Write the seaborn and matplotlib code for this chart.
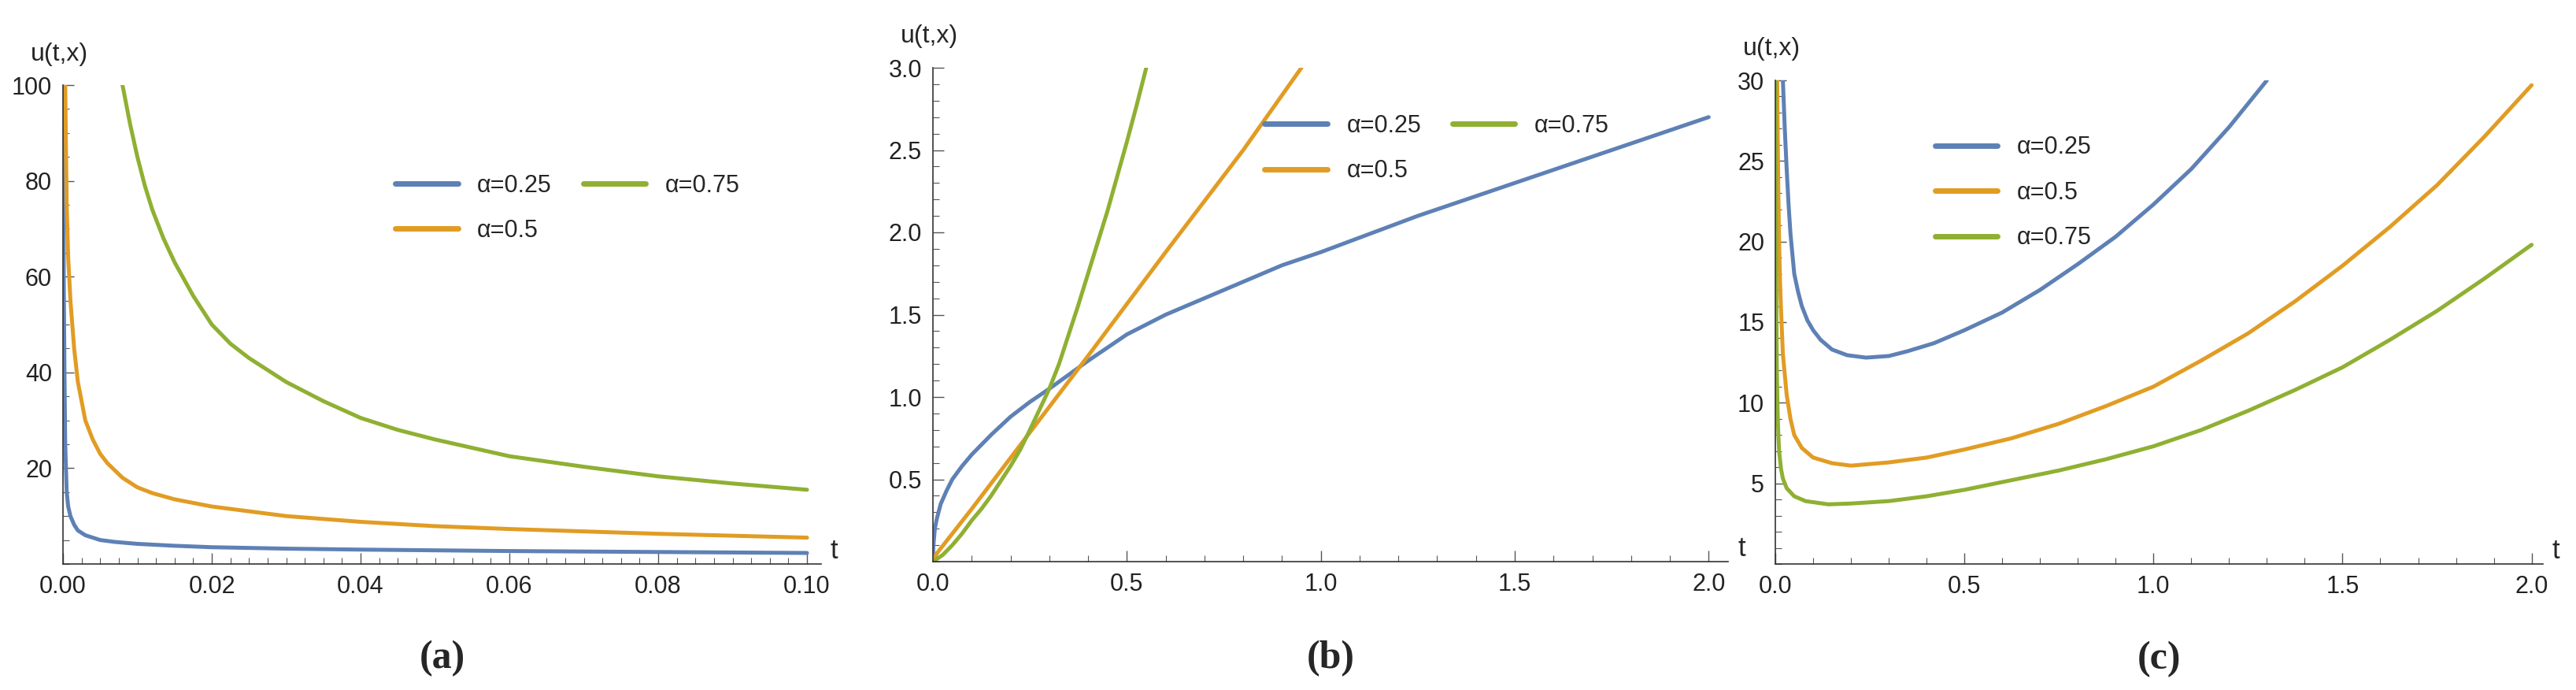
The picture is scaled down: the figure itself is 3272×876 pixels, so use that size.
import numpy as np
import pandas as pd
import seaborn as sns
import matplotlib
matplotlib.use("Agg")
import matplotlib.pyplot as plt
from matplotlib.ticker import MultipleLocator
from matplotlib.lines import Line2D

sns.set_theme(style="ticks")
plt.rcParams['font.family'] = ['Liberation Sans Narrow', 'Liberation Sans', 'DejaVu Sans']

labels = ["α=0.25", "α=0.5", "α=0.75"]
colors = ["#5E81B5", "#E19C24", "#8FB032"]

# Panel (a)
a_t025 = [0.00005, 0.0001, 0.0002, 0.0003, 0.0005, 0.0007, 0.001, 0.0015, 0.002, 0.003, 0.005, 0.007, 0.01, 0.015, 0.02, 0.03, 0.04, 0.06, 0.08, 0.1]
a_u025 = [100, 60, 40, 25, 15, 12, 10, 8.2, 7, 6, 5, 4.6, 4.2, 3.8, 3.5, 3.2, 3.0, 2.7, 2.5, 2.3]
a_t05 = [0.0003, 0.0004, 0.0005, 0.0007, 0.001, 0.0015, 0.002, 0.003, 0.004, 0.005, 0.006, 0.008, 0.01, 0.012, 0.015, 0.02, 0.025, 0.03, 0.04, 0.05, 0.06, 0.08, 0.1]
a_u05 = [100, 87, 75, 64, 55, 45, 38, 30, 26, 23, 21, 18, 16, 14.8, 13.5, 12, 11, 10, 8.8, 7.9, 7.3, 6.3, 5.5]
a_t075 = [0.008, 0.009, 0.01, 0.011, 0.012, 0.0135, 0.015, 0.0175, 0.02, 0.0225, 0.025, 0.0275, 0.03, 0.035, 0.04, 0.045, 0.05, 0.06, 0.07, 0.08, 0.09, 0.1]
a_u075 = [100, 92, 85, 79, 74, 68, 63, 56, 50, 46, 43, 40.5, 38, 34, 30.5, 28, 26, 22.5, 20.3, 18.3, 16.8, 15.5]

# Panel (b)
b_t025 = [0, 0.001, 0.002, 0.005, 0.01, 0.02, 0.035, 0.05, 0.075, 0.1, 0.15, 0.2, 0.25, 0.3, 0.4, 0.5, 0.6, 0.75, 0.9, 1.0, 1.25, 1.5, 1.75, 2.0]
b_u025 = [0, 0.09, 0.12, 0.2, 0.26, 0.35, 0.43, 0.5, 0.58, 0.65, 0.77, 0.88, 0.97, 1.05, 1.22, 1.38, 1.5, 1.65, 1.8, 1.88, 2.1, 2.3, 2.5, 2.7]
b_t05 = [0, 0.01, 0.02, 0.05, 0.1, 0.2, 0.3, 0.4, 0.6, 0.8, 0.95]
b_u05 = [0, 0.05, 0.08, 0.17, 0.32, 0.63, 0.94, 1.25, 1.88, 2.5, 3.0]
b_t075 = [0, 0.025, 0.05, 0.075, 0.1, 0.125, 0.15, 0.175, 0.2, 0.225, 0.25, 0.27, 0.3, 0.325, 0.35, 0.375, 0.4, 0.425, 0.45, 0.475, 0.5, 0.525, 0.55]
b_u075 = [0, 0.04, 0.1, 0.17, 0.25, 0.32, 0.4, 0.49, 0.58, 0.68, 0.8, 0.9, 1.05, 1.2, 1.38, 1.56, 1.75, 1.94, 2.13, 2.34, 2.55, 2.77, 3.0]

# Panel (c)
c_t025 = [0.02, 0.025, 0.03, 0.035, 0.04, 0.05, 0.06, 0.07, 0.085, 0.1, 0.12, 0.15, 0.19, 0.24, 0.3, 0.35, 0.42, 0.5, 0.6, 0.7, 0.8, 0.9, 1.0, 1.1, 1.2, 1.3]
c_u025 = [30, 27, 24.5, 22.3, 20.5, 18, 16.9, 16, 15.1, 14.5, 13.9, 13.3, 12.95, 12.8, 12.9, 13.2, 13.7, 14.5, 15.6, 17, 18.6, 20.3, 22.3, 24.5, 27.1, 30]
c_t05 = [0.005, 0.006, 0.008, 0.01, 0.0125, 0.015, 0.02, 0.03, 0.04, 0.05, 0.07, 0.1, 0.15, 0.2, 0.3, 0.4, 0.5, 0.625, 0.75, 0.875, 1.0, 1.125, 1.25, 1.375, 1.5, 1.625, 1.75, 1.875, 2.0]
c_u05 = [30, 27, 23, 20, 17.5, 15.8, 13, 10.5, 9, 8, 7.2, 6.6, 6.25, 6.1, 6.3, 6.6, 7.1, 7.8, 8.7, 9.8, 11.0, 12.6, 14.3, 16.3, 18.5, 20.9, 23.5, 26.5, 29.7]
c_t075 = [0.001, 0.0015, 0.002, 0.003, 0.004, 0.006, 0.008, 0.01, 0.015, 0.02, 0.03, 0.05, 0.08, 0.14, 0.2, 0.3, 0.4, 0.5, 0.625, 0.75, 0.875, 1.0, 1.125, 1.25, 1.375, 1.5, 1.625, 1.75, 1.875, 2.0]
c_u075 = [30, 24, 20, 15, 12, 9.5, 8, 7, 5.9, 5.3, 4.7, 4.2, 3.9, 3.7, 3.75, 3.9, 4.2, 4.6, 5.2, 5.8, 6.5, 7.3, 8.3, 9.5, 10.8, 12.2, 13.9, 15.7, 17.7, 19.8]

W, H = 3273, 876
fig = plt.figure(figsize=(W / 100, H / 100), dpi=100)

def make_df(ts, us):
    rows = []
    for lab, t, u in zip(labels, ts, us):
        for ti, ui in zip(t, u):
            rows.append((lab, ti, ui))
    return pd.DataFrame(rows, columns=["alpha", "t", "u"])

def panel(px0, px1, py0, py1, ts, us, xlim, ylim, xmaj, xmin, ymaj, ymin, xfmt, legpos, ncol, caption):
    ax = fig.add_axes([px0 / W, 1 - py1 / H, (px1 - px0) / W, (py1 - py0) / H])
    df = make_df(ts, us)
    sns.lineplot(data=df, x="t", y="u", hue="alpha", hue_order=labels, palette=colors,
                 sort=False, estimator=None, lw=3.6, ax=ax, legend=False)
    ax.set_xlim(*xlim)
    ax.set_ylim(*ylim)
    for s in ["top", "right"]:
        ax.spines[s].set_visible(False)
    ax.spines["left"].set_position(("data", 0))
    ax.spines["bottom"].set_position(("data", 0))
    for s in ["left", "bottom"]:
        ax.spines[s].set_color("#333333")
        ax.spines[s].set_linewidth(1.2)
    ax.xaxis.set_major_locator(MultipleLocator(xmaj))
    ax.xaxis.set_minor_locator(MultipleLocator(xmin))
    ax.yaxis.set_major_locator(MultipleLocator(ymaj))
    ax.yaxis.set_minor_locator(MultipleLocator(ymin))
    ax.xaxis.set_major_formatter(matplotlib.ticker.FormatStrFormatter(xfmt))
    ax.tick_params(which="major", length=10, width=1, color="#555555", labelsize=22,
                   labelcolor="#222222", direction="in", pad=10)
    ax.tick_params(which="minor", length=6, width=0.8, color="#555555", direction="in")
    ax.set_xlabel("")
    ax.set_ylabel("")
    yt = [v for v in ax.get_yticks() if ylim[0] < v <= ylim[1] + 1e-9]
    ax.set_yticks(yt)
    ax.text(-0.005, 1.04, "u(t,x)", transform=ax.transAxes, ha="center", va="bottom", fontsize=23)
    ax.text(1.012, 0, "t", transform=ax.get_yaxis_transform(), ha="left", va="bottom", fontsize=25)
    handles = [Line2D([], [], color=c, lw=5) for c in colors]
    ax.legend(handles, labels, ncol=ncol, frameon=False, fontsize=22, loc="upper left",
              bbox_to_anchor=legpos, handlelength=2.6, columnspacing=1.3, labelspacing=0.9)
    ax.text(0.5, -0.16, caption, transform=ax.transAxes, ha="center", va="top",
            fontsize=36, fontweight="bold", family=["Liberation Serif", "DejaVu Serif"])
    return ax

panel(80, 1043, 108, 716, [a_t025, a_t05, a_t075], [a_u025, a_u05, a_u075],
      (0, 0.1019), (0, 100), 0.02, 0.0025, 20, 5, "%.2f", (0.41, 0.86), 2, "(a)")
panel(1185, 2195, 86, 713, [b_t025, b_t05, b_t075], [b_u025, b_u05, b_u075],
      (0, 2.05), (0, 3.0), 0.5, 0.1, 0.5, 0.1, "%.1f", (0.39, 0.95), 2, "(b)")
panel(2255, 3230, 102, 716, [c_t025, c_t05, c_t075], [c_u025, c_u05, c_u075],
      (0, 2.03), (0, 30), 0.5, 0.1, 5, 1, "%.1f", (0.18, 0.93), 1, "(c)")

fig.savefig("out.png", dpi=100)
